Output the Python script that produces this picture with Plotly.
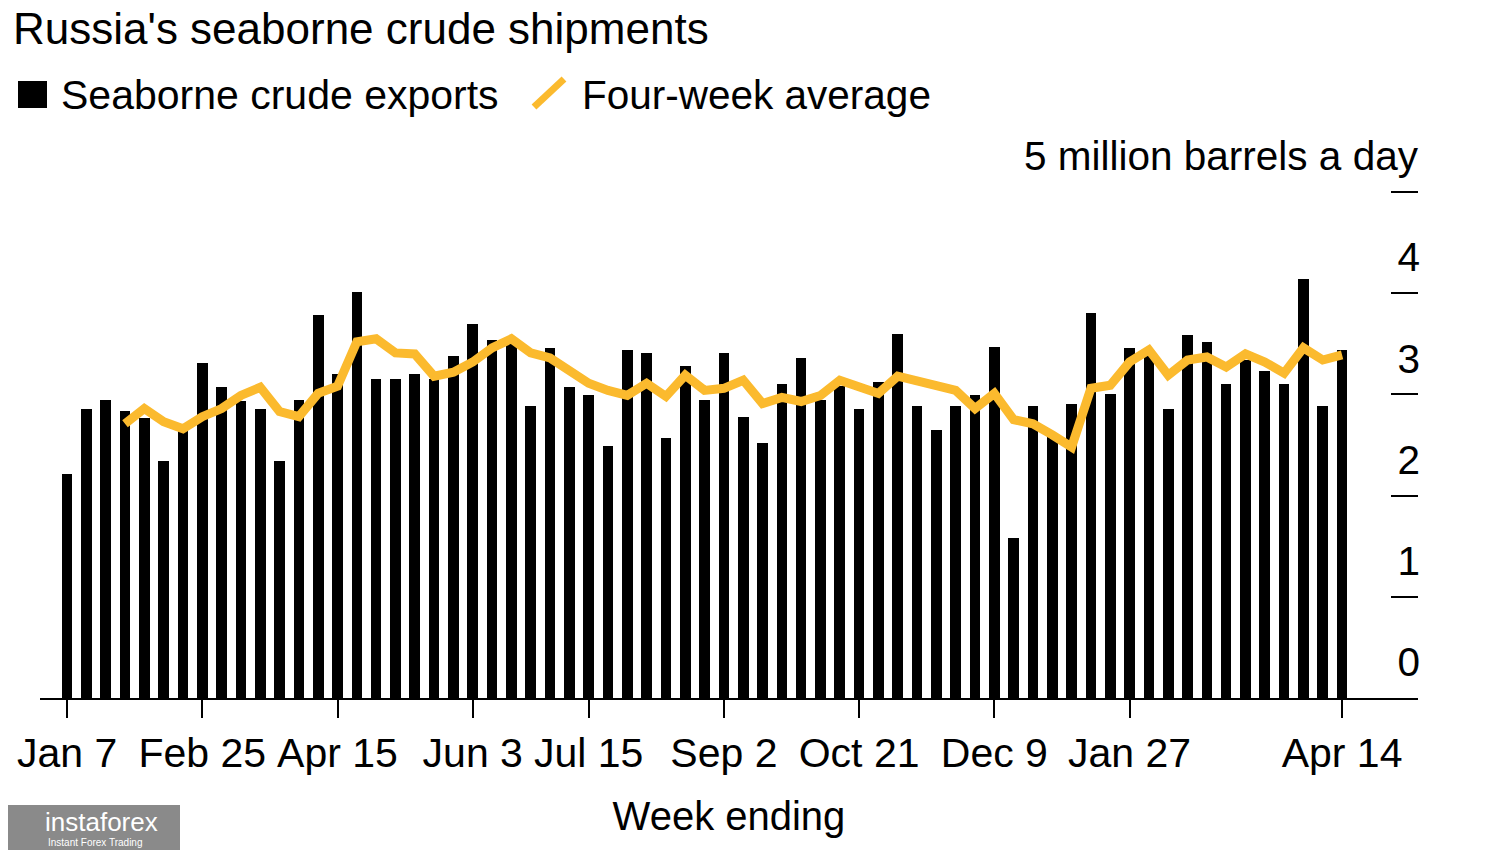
"""
ロシアの海上原油輸出（週次）と4週平均
"""

import pandas as pd
import plotly.graph_objects as go

# 週末日（2018-01-07 から 67 週）
week_ending = pd.date_range("2018-01-07", periods=67, freq="7D")

# 海上原油輸出（百万バレル/日）
exports = [
    2.21, 2.86, 2.94, 2.84, 2.77, 2.34, 2.65, 3.31, 3.07, 2.93, 2.86, 2.34, 2.94, 3.78, 3.20,
    4.01, 3.15, 3.15, 3.20, 3.15, 3.38, 3.70, 3.54, 3.50, 2.89, 3.46, 3.07, 2.99, 2.49,
    3.44, 3.41, 2.57, 3.28, 2.94, 3.41, 2.78, 2.52, 3.10, 3.36, 2.94, 3.08, 2.86, 3.12, 3.60,
    2.89, 2.65, 2.89, 2.99, 3.47, 1.58, 2.89, 2.61, 2.91, 3.80, 3.00, 3.46, 3.40, 2.86, 3.59,
    3.52, 3.10, 3.34, 3.23, 3.10, 4.14, 2.89, 3.44,
]

# 4週平均（最初の3週は無し）
four_week_avg = [
    None, None, None, 2.71, 2.86, 2.73, 2.66, 2.78, 2.86, 2.99, 3.07, 2.83, 2.78, 3.01, 3.08,
    3.52, 3.55, 3.41, 3.40, 3.18, 3.22, 3.32, 3.46, 3.55, 3.41, 3.36, 3.24, 3.11, 3.04,
    2.99, 3.11, 2.98, 3.19, 3.04, 3.06, 3.14, 2.91, 2.97, 2.93, 2.99, 3.14, 3.08, 3.01, 3.18,
    3.13, 3.09, 3.04, 2.86, 3.01, 2.75, 2.71, 2.60, 2.48, 3.06, 3.09, 3.32, 3.44, 3.19, 3.34,
    3.37, 3.27, 3.40, 3.32, 3.21, 3.46, 3.34, 3.39,
]

# 軸ラベル
x_tick_dates = ["2018-01-07", "2018-02-25", "2018-04-15", "2018-06-03", "2018-07-15",
                "2018-09-02", "2018-10-21", "2018-12-09", "2019-01-27", "2019-04-14"]
x_tick_labels = ["Jan 7", "Feb 25", "Apr 15", "Jun 3", "Jul 15",
                 "Sep 2", "Oct 21", "Dec 9", "Jan 27", "Apr 14"]
y_tick_vals = [0, 1, 2, 3, 4, 5]
y_tick_labels = ["0", "1", "2", "3", "4", ""]
y_unit_label = "5 million barrels a day"

FONT = "Liberation Sans, Arial, sans-serif"
YELLOW = "#FBBA2E"
OFF = 8  # ページ本文の余白
W, H = 1500 - OFF, 850 - OFF
L, R, T, B = 40, 1418, 191, 698  # プロット領域（画面ピクセル）


def px(x):
    return (x - L) / (R - L)


def py(y):
    return (B - y) / (B - T)


# 週を連番で扱う（日付軸の目盛り欠落を避ける）
week_idx = list(range(len(week_ending)))
date_to_idx = {d.strftime("%Y-%m-%d"): i for i, d in enumerate(week_ending)}
x_tick_idx = [date_to_idx[d] for d in x_tick_dates]

fig = go.Figure()

fig.add_trace(
    go.Bar(
        x=week_idx,
        y=exports,
        width=0.55,
        marker={"color": "#000000", "line": {"width": 0}},
        name="Seaborne crude exports",
    )
)

fig.add_trace(
    go.Scatter(
        x=week_idx,
        y=four_week_avg,
        mode="lines",
        line={"color": YELLOW, "width": 9},
        name="Four-week average",
    )
)

fig.update_xaxes(
    range=[-1.4, len(week_idx) - 1 + 3.93],
    tickvals=x_tick_idx,
    ticktext=x_tick_labels,
    tickfont={"size": 41, "color": "#000000", "family": FONT},
    ticks="outside",
    ticklen=18,
    tickwidth=2,
    tickcolor="#000000",
    showline=True,
    linecolor="#000000",
    linewidth=2,
    showgrid=False,
    zeroline=False,
    automargin=False,
    title={"text": "Week ending", "font": {"size": 40, "color": "#000000", "family": FONT}, "standoff": 27},
)

fig.update_yaxes(
    range=[0, 5.01],
    side="right",
    tickvals=y_tick_vals,
    ticktext=y_tick_labels,
    tickfont={"size": 40.5, "color": "#000000", "family": FONT},
    ticks="inside",
    ticklen=27,
    tickwidth=2,
    tickcolor="#000000",
    ticklabelposition="inside",
    ticklabelshift=-36,
    ticklabelstandoff=-24,
    showline=False,
    showgrid=False,
    zeroline=False,
    automargin=False,
)

# 凡例（手描き）
shapes = [
    {"type": "rect", "xref": "paper", "yref": "paper",
     "x0": px(18), "x1": px(47), "y0": py(108), "y1": py(81),
     "fillcolor": "#000000", "line": {"width": 0}},
    {"type": "line", "xref": "paper", "yref": "paper",
     "x0": px(534), "x1": px(564), "y0": py(107), "y1": py(79),
     "line": {"color": YELLOW, "width": 7}},
    # ウォーターマーク背景
    {"type": "rect", "xref": "paper", "yref": "paper",
     "x0": px(0), "x1": px(180), "y0": py(850), "y1": py(805),
     "fillcolor": "#8a8a8a", "line": {"width": 0}},
]

annotations = [
    {"text": "Russia's seaborne crude shipments", "x": px(12), "y": py(29),
     "font": {"size": 44, "color": "#000000", "family": FONT}},
    {"text": "Seaborne crude exports", "x": px(60), "y": py(95),
     "font": {"size": 41, "color": "#000000", "family": FONT}},
    {"text": "Four-week average", "x": px(581), "y": py(95),
     "font": {"size": 40.5, "color": "#000000", "family": FONT}},
    {"text": "instaforex", "x": px(44), "y": py(822),
     "font": {"size": 26, "color": "#ffffff", "family": FONT}},
    {"text": "Instant Forex Trading", "x": px(47), "y": py(842),
     "font": {"size": 10, "color": "#ffffff", "family": FONT}},
]
for a in annotations:
    a.update({"xref": "paper", "yref": "paper", "xanchor": "left", "yanchor": "middle",
              "showarrow": False, "borderpad": 0})

# 単位ラベル（5 の目盛りの上）
annotations.append(
    {"text": y_unit_label, "xref": "paper", "yref": "y", "x": px(1420), "y": y_tick_vals[-1],
     "yshift": 36, "xanchor": "right", "yanchor": "middle", "showarrow": False, "borderpad": 0,
     "font": {"size": 40.5, "color": "#000000", "family": FONT}}
)

fig.update_layout(
    width=W,
    height=H,
    margin={"l": L - OFF, "r": 1500 - R, "t": T - OFF, "b": 850 - B, "pad": 0, "autoexpand": False},
    plot_bgcolor="#ffffff",
    paper_bgcolor="#ffffff",
    showlegend=False,
    bargap=0,
    shapes=shapes,
    annotations=annotations,
    font={"family": FONT, "color": "#000000"},
)

fig.write_html("out.html")
